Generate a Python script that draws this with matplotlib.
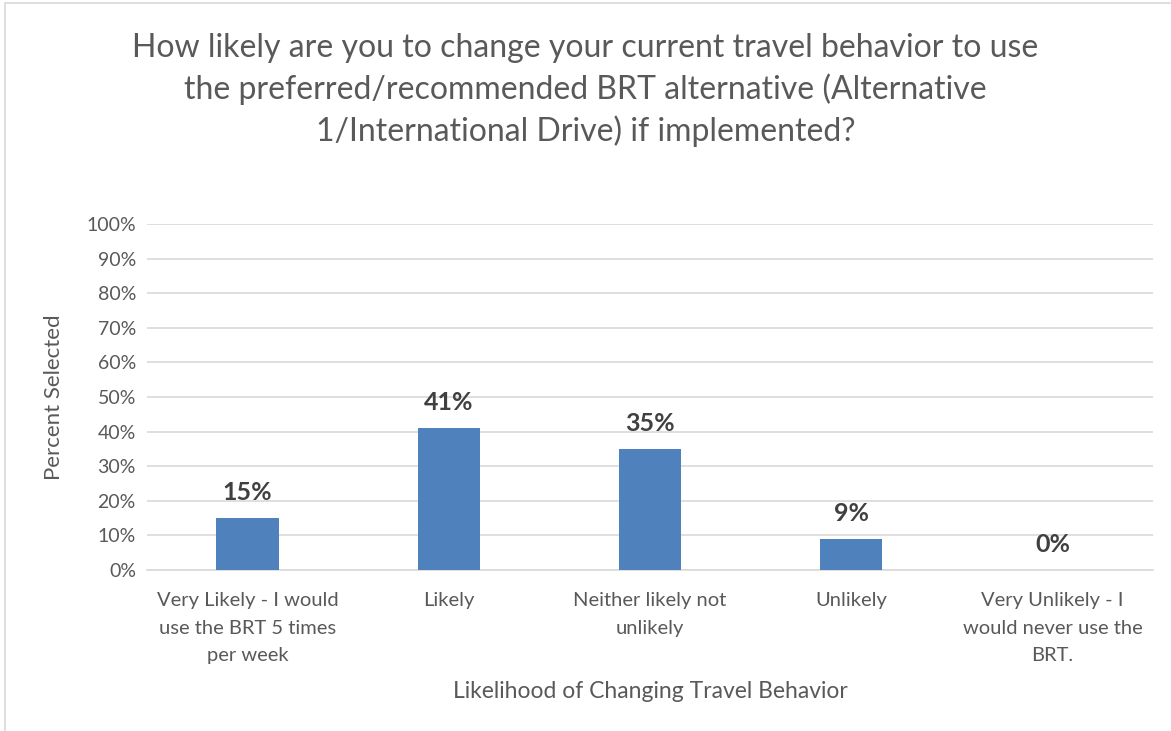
import matplotlib
matplotlib.use('agg')
import matplotlib.pyplot as plt
from matplotlib.patches import Rectangle

categories = ['Very Likely - I would\nuse the BRT 5 times\nper week',
              'Likely',
              'Neither likely not\nunlikely',
              'Unlikely',
              'Very Unlikely - I\nwould never use the\nBRT.']
percent = [15, 41, 35, 9, 0]
yticks = [0, 10, 20, 30, 40, 50, 60, 70, 80, 90, 100]

plt.rcParams['font.family'] = ['Lato', 'DejaVu Sans']
grey = '#595959'

fig = plt.figure(figsize=(11.71, 7.31), dpi=100)
fig.patches.append(Rectangle((5/1171, -0.1), 1.2, 1 - 3/731 + 0.1,
                             transform=fig.transFigure, fill=False,
                             edgecolor='#d9d9d9', linewidth=1.2))

ax = fig.add_axes([147/1171, 1 - 570/731, (1153-147)/1171, (570-224)/731])
x = list(range(len(categories)))
ax.bar(x, percent, width=0.31, color='#4f81bd', zorder=3)
for xi, v in zip(x, percent):
    ax.annotate(f'{v}%', (xi, v), xytext=(0, 10), textcoords='offset points',
                ha='center', va='bottom', fontsize=18, fontweight='bold',
                color='#404040')

ax.set_xlim(-0.5, len(categories) - 0.5)
ax.set_ylim(0, 100)
ax.set_yticks(yticks)
ax.set_yticklabels([f'{t}%' for t in yticks])
ax.set_xticks(x)
ax.set_xticklabels(categories, linespacing=1.75)
ax.tick_params(axis='both', length=0, labelsize=14.5, colors=grey)
ax.tick_params(axis='x', pad=16)
ax.tick_params(axis='y', labelsize=14, pad=8)
ax.grid(axis='y', color='#d9d9d9', linewidth=1.2, zorder=0)
for s in ['top', 'right', 'left']:
    ax.spines[s].set_visible(False)
ax.spines['bottom'].set_color('#d9d9d9')
ax.spines['bottom'].set_linewidth(1.2)

ax.set_ylabel('Percent Selected', fontsize=16, color=grey, labelpad=16)
ax.set_xlabel('Likelihood of Changing Travel Behavior', fontsize=16.5,
              color=grey, labelpad=12)

fig.text(0.5, 1 - 90/731,
         'How likely are you to change your current travel behavior to use\n'
         'the preferred/recommended BRT alternative (Alternative\n'
         '1/International Drive) if implemented?',
         ha='center', va='center', fontsize=23, color=grey, linespacing=1.4)

fig.savefig('out.png', dpi=100)
